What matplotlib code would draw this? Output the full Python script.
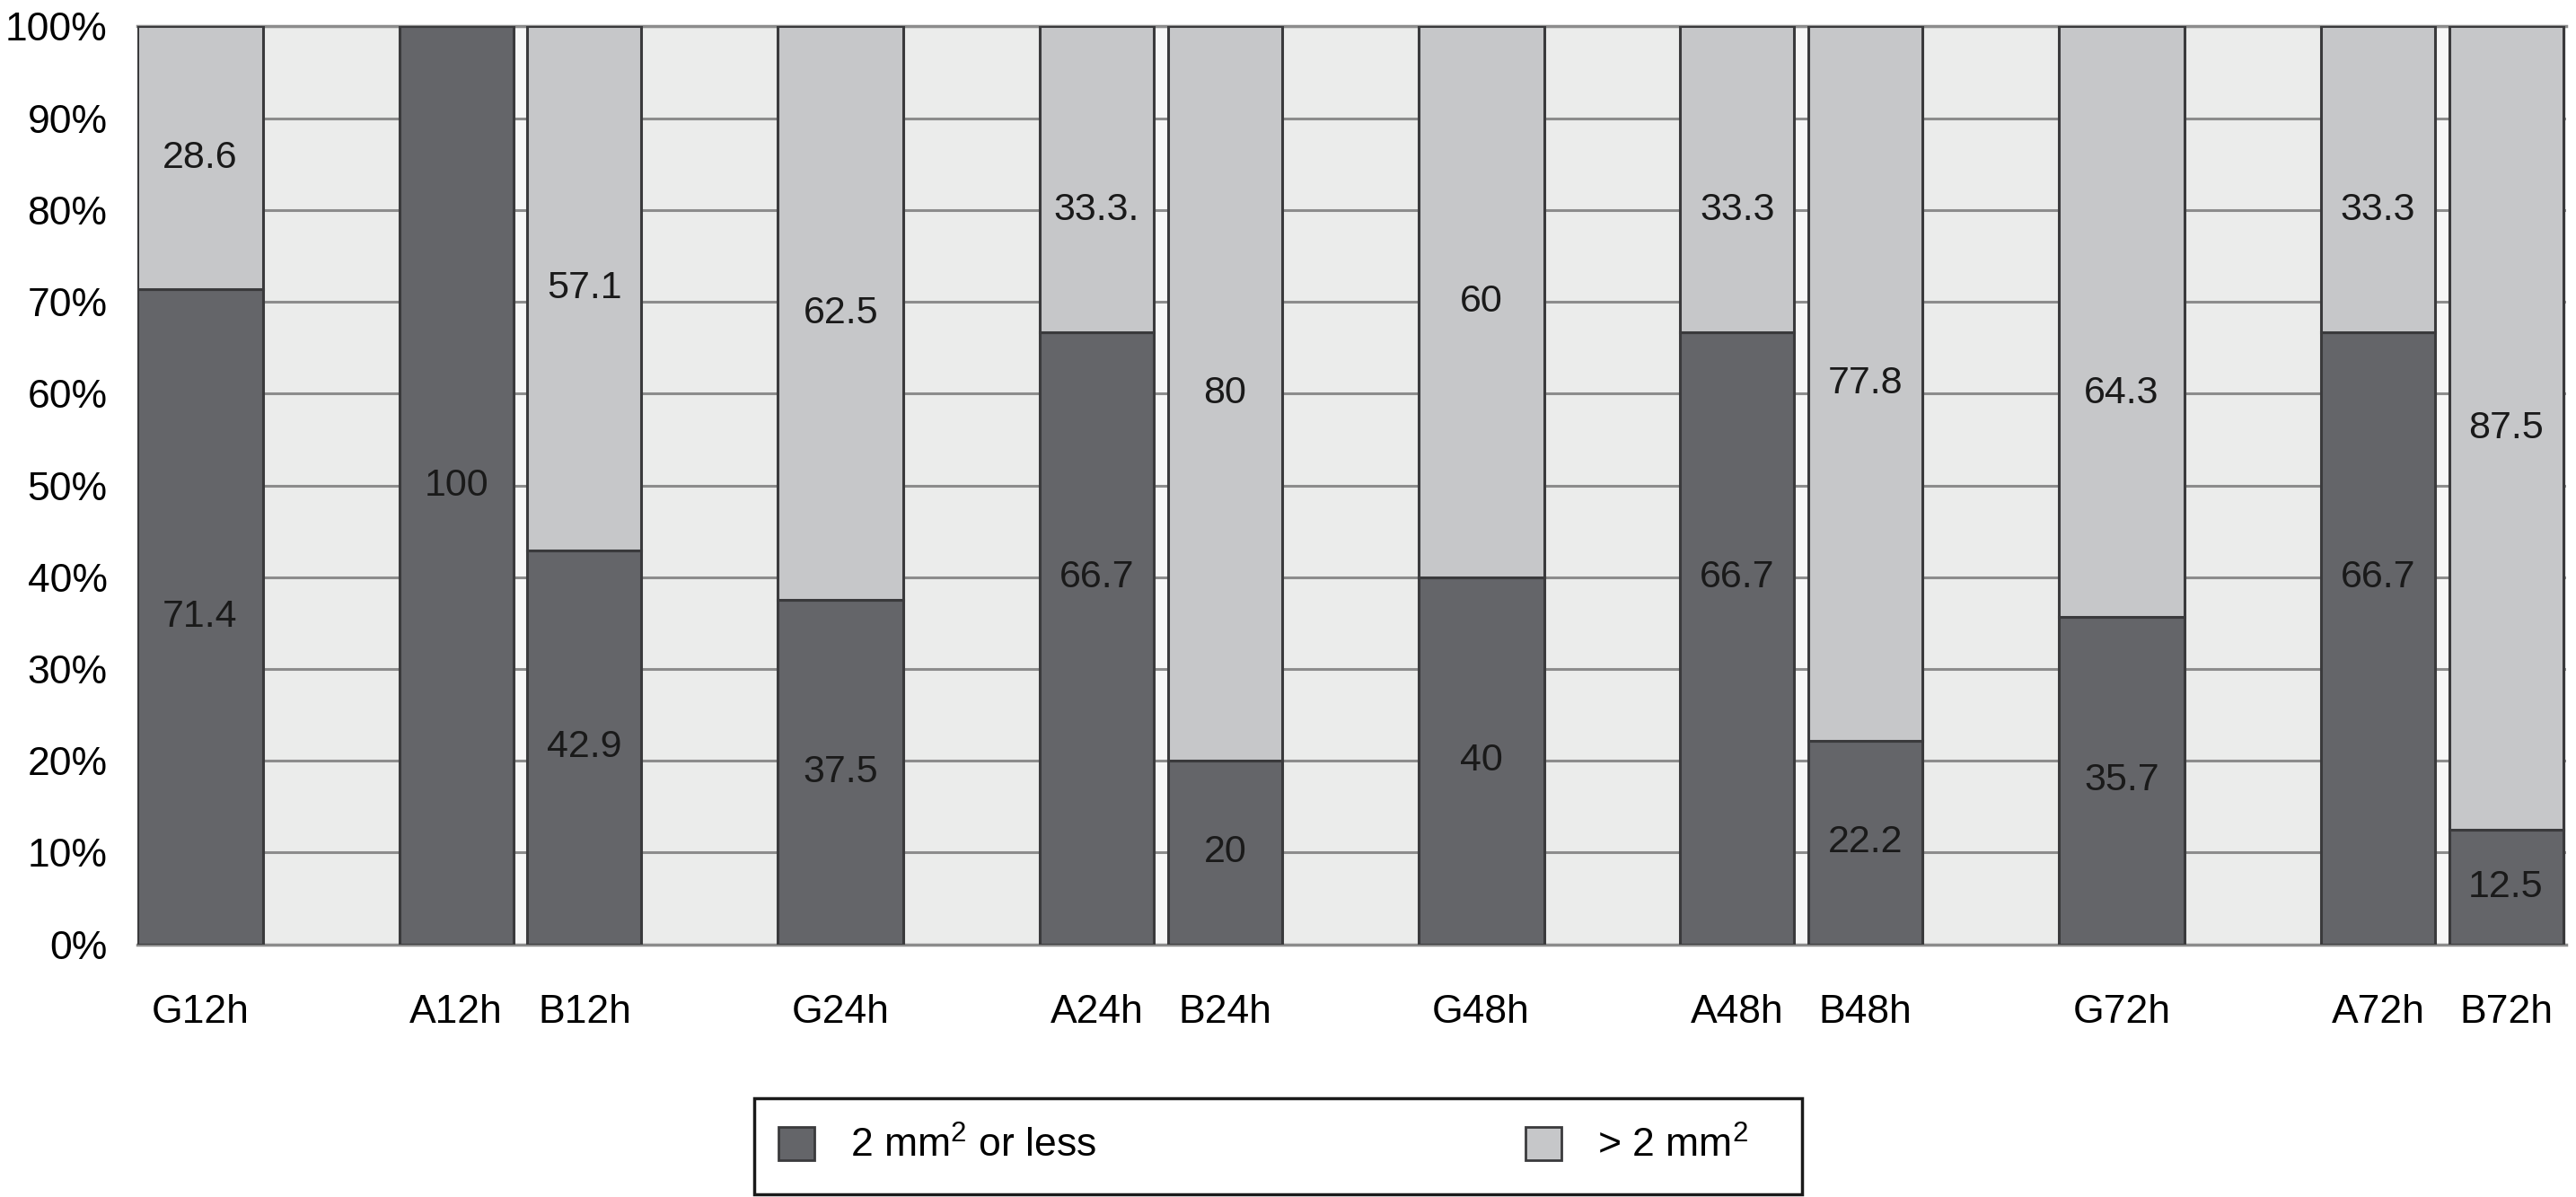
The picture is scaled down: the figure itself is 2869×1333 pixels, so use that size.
import matplotlib
matplotlib.use('Agg')
import matplotlib.pyplot as plt
from matplotlib.patches import Patch

plt.rcParams['font.family'] = ['Liberation Sans', 'DejaVu Sans']
plt.rcParams['mathtext.fontset'] = 'custom'
plt.rcParams['mathtext.rm'] = 'Liberation Sans'

# 데이터
groups = ['12h', '24h', '48h', '72h']
kinds = ['G', 'A', 'B']
small = [71.4, 100, 42.9, 37.5, 66.7, 20, 40, 66.7, 22.2, 35.7, 66.7, 12.5]   # 2 mm2 or less
large = [28.6, 0, 57.1, 62.5, 33.3, 80, 60, 33.3, 77.8, 64.3, 33.3, 87.5]     # > 2 mm2
large_text = ['28.6', '', '57.1', '62.5', '33.3.', '80', '60', '33.3', '77.8', '64.3', '33.3', '87.5']
small_text = ['71.4', '100', '42.9', '37.5', '66.7', '20', '40', '66.7', '22.2', '35.7', '66.7', '12.5']
legend_names = [r'2 mm$^{\mathrm{2}}$ or less', r'> 2 mm$^{\mathrm{2}}$']

# 라벨 위치 (엑셀에서 손으로 옮긴 것 같은 라벨들)
label_move = {'33.3': 80, '33.3.': 80, '66.7': 40, '64.3': 60}

dark = '#646569'
light = '#c6c7c9'
edge = '#3a3a3c'

offset = {'G': 0, 'A': 2, 'B': 3}
xs, names, widths = [], [], []
for gi, g in enumerate(groups):
    for k in kinds:
        xs.append(gi * 5 + offset[k])
        names.append(k + g)
        widths.append(0.98 if k == 'G' else 0.89)

fig = plt.figure(figsize=(28.69, 13.33), dpi=100)
ax = fig.add_axes([0.0533, 0.211, 0.9429, 0.767])
ax.set_facecolor('#ebeceb')

# A, B 막대 사이 좁은 틈은 흰색
for gi in range(len(groups)):
    ax.axvspan(gi * 5 + 2 + 0.445, gi * 5 + 3 - 0.445, color='#f7f7f7', zorder=0.5)

ax.bar(xs, small, width=widths, color=dark, edgecolor=edge, linewidth=2.2, zorder=3)
ax.bar(xs, large, width=widths, bottom=small, color=light, edgecolor=edge, linewidth=2.2, zorder=3)

for x, s, l, st, lt in zip(xs, small, large, small_text, large_text):
    y1 = label_move.get(st, s / 2)
    ax.text(x, y1, st, ha='center', va='center', fontsize=31, color='#1a1a1a', zorder=4)
    if lt:
        y2 = label_move.get(lt, s + l / 2)
        ax.text(x, y2, lt, ha='center', va='center', fontsize=31, color='#1a1a1a', zorder=4)

ax.set_xlim(-0.49, 18.47)
ax.set_ylim(0, 100)
ax.set_yticks(range(0, 101, 10))
ax.set_yticklabels([f'{v}%' for v in range(0, 101, 10)])
ax.set_xticks(xs)
ax.set_xticklabels(names)
ax.tick_params(axis='y', length=0, pad=24, labelsize=32)
ax.tick_params(axis='x', length=0, pad=40, labelsize=32)
ax.grid(axis='y', color='#8c8c8c', linewidth=2.2, zorder=1)
ax.set_axisbelow(True)
for s in ['left', 'right']:
    ax.spines[s].set_visible(False)
for s in ['top', 'bottom']:
    ax.spines[s].set_color('#8c8c8c')
    ax.spines[s].set_linewidth(2.5)

handles = [Patch(facecolor=dark, edgecolor=edge, linewidth=2),
           Patch(facecolor=light, edgecolor=edge, linewidth=2)]
leg = fig.legend(handles, legend_names, ncol=2, mode='expand',
                 loc='center', bbox_to_anchor=(0.2928, 0.0023, 0.395, 0.0802),
                 fontsize=32, frameon=False, borderaxespad=0,
                 handlelength=0.9, handleheight=0.9, handletextpad=0.9,
                 borderpad=0.6)
# 범례 테두리
fig.patches.append(plt.Rectangle((0.2928, 0.0023), 0.4067, 0.0802, transform=fig.transFigure,
                                 fill=False, edgecolor='#1a1a1a', linewidth=2.5))

plt.savefig('out.png', dpi=100)
